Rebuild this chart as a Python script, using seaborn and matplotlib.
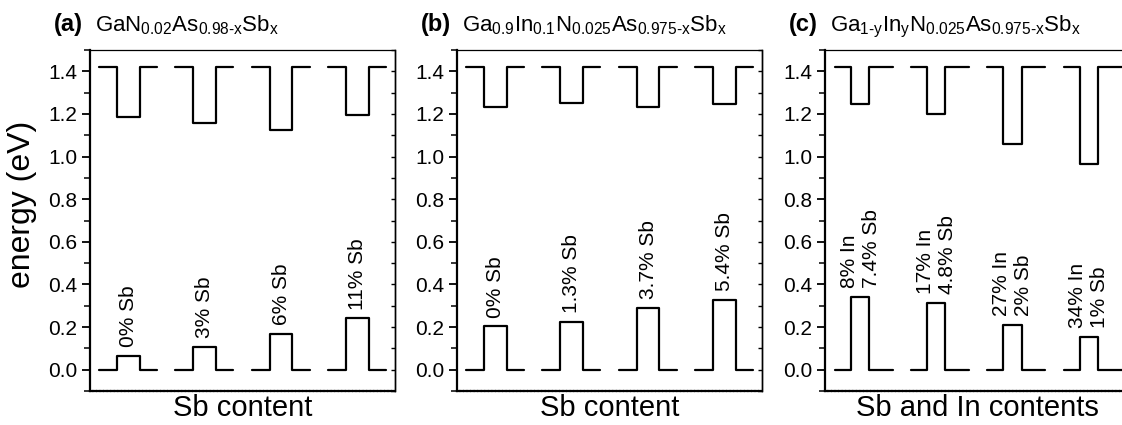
import numpy as np
import pandas as pd
import matplotlib
matplotlib.use("Agg")
import matplotlib.pyplot as plt
import seaborn as sns
from matplotlib.ticker import MultipleLocator

sns.set_theme(style="white")
plt.rcParams["font.family"] = ["Liberation Sans", "DejaVu Sans"]
plt.rcParams["mathtext.fontset"] = "custom"
plt.rcParams["mathtext.rm"] = "Liberation Sans"
plt.rcParams["mathtext.it"] = "Liberation Sans:italic"
plt.rcParams["mathtext.bf"] = "Liberation Sans:bold"

# ---------------- data ----------------
barrier_cb = 1.42   # GaAs conduction-band level (eV)
barrier_vb = 0.0    # GaAs valence-band level (eV)

panel_tags = ["(a)", "(b)", "(c)"]
panel_formulas = [
    r"$\mathregular{GaN_{0.02}As_{0.98\text{-}x}Sb_x}$",
    r"$\mathregular{Ga_{0.9}In_{0.1}N_{0.025}As_{0.975\text{-}x}Sb_x}$",
    r"$\mathregular{Ga_{1\text{-}y}In_yN_{0.025}As_{0.975\text{-}x}Sb_x}$",
]
x_labels = ["Sb content", "Sb content", "Sb and In contents"]

cb_a = [1.187, 1.159, 1.125, 1.193]
vb_a = [0.066, 0.108, 0.168, 0.241]
labels_a = ["0% Sb", "3% Sb", "6% Sb", "11% Sb"]

cb_b = [1.232, 1.253, 1.232, 1.245]
vb_b = [0.203, 0.224, 0.290, 0.327]
labels_b = ["0% Sb", "1.3% Sb", "3.7% Sb", "5.4% Sb"]

cb_c = [1.245, 1.200, 1.057, 0.963]
vb_c = [0.343, 0.313, 0.211, 0.154]
labels_c = ["8% In\n7.4% Sb", "17% In\n4.8% Sb", "27% In\n2% Sb", "34% In\n1% Sb"]

# ---------------- layout (geometry, not data) ----------------
W, H = 1122, 425
edges_ab = (0.12, 0.355, 0.655, 0.88)
edges_c = (0.13, 0.34, 0.58, 0.89)
panels = [
    dict(cb=cb_a, vb=vb_a, lab=labels_a, edges=edges_ab, left=90, right_spine=True),
    dict(cb=cb_b, vb=vb_b, lab=labels_b, edges=edges_ab, left=457, right_spine=True),
    dict(cb=cb_c, vb=vb_c, lab=labels_c, edges=edges_c, left=825, right_spine=False),
]
ax_w, ax_bottom, ax_top = 305, 391, 50

fig = plt.figure(figsize=(W / 100, H / 100), dpi=100)


def step_profile(i, level, barrier, edges):
    s, wl, wr, e = edges
    xs = [i + s, i + wl, i + wl, i + wr, i + wr, i + e]
    ys = [barrier, barrier, level, level, barrier, barrier]
    return xs, ys


for k, p in enumerate(panels):
    ax = fig.add_axes([p["left"] / W, (H - ax_bottom) / H, ax_w / W,
                       (ax_bottom - ax_top) / H])
    rows = []
    for i in range(4):
        for band, lvl, bar in (("cb", p["cb"][i], barrier_cb), ("vb", p["vb"][i], barrier_vb)):
            xs, ys = step_profile(i, lvl, bar, p["edges"])
            for j, (xx, yy) in enumerate(zip(xs, ys)):
                rows.append(dict(x=xx, y=yy, seg=f"{band}{i}", order=j))
    df = pd.DataFrame(rows)
    sns.lineplot(data=df, x="x", y="y", units="seg", estimator=None, sort=False,
                 color="black", linewidth=1.6, ax=ax)

    # rotated composition labels above the valence-band wells
    s, wl, wr, e = p["edges"]
    for i in range(4):
        ax.text(i + (wl + wr) / 2, p["vb"][i] + 0.04, p["lab"][i], rotation=90,
                rotation_mode="anchor", ha="left", va="center", fontsize=15,
                linespacing=1.2, color="black")

    ax.set_xlim(0, 4)
    ax.set_ylim(-0.1, 1.5)
    ax.set_xticks([])
    ax.yaxis.set_minor_locator(MultipleLocator(0.1))
    ax.set_yticks(np.arange(0, 1.41, 0.2))
    ax.set_yticklabels([f"{v:.1f}" for v in np.arange(0, 1.41, 0.2)])
    ax.tick_params(axis="y", which="major", direction="out", length=6, width=1.3,
                   labelsize=15, pad=3, left=True, colors="black")
    ax.tick_params(axis="y", which="minor", direction="out", length=4, width=1.3, left=True)
    ax.set_xlabel(x_labels[k], fontsize=21, labelpad=2, color="black")
    ax.set_ylabel("")

    for side in ax.spines.values():
        side.set_color("black")
    ax.spines["left"].set_linewidth(1.6)
    ax.spines["bottom"].set_linewidth(1.6)
    ax.spines["bottom"].set_linestyle((0, (1, 0.6)))
    ax.spines["top"].set_linewidth(0.9)
    ax.spines["top"].set_linestyle((0, (1, 1)))
    if p["right_spine"]:
        ax.spines["right"].set_linewidth(1.0)
        sec = ax.secondary_yaxis("right")
        sec.yaxis.set_major_locator(MultipleLocator(0.2))
        sec.yaxis.set_minor_locator(MultipleLocator(0.1))
        sec.tick_params(which="both", direction="in", length=3, width=1.0,
                        labelright=False, colors="black")
        sec.spines["right"].set_linewidth(1.0)
        sec.spines["right"].set_color("black")
    else:
        ax.spines["right"].set_visible(False)

    # panel title: bold tag + formula
    tx = (p["left"] - 36) / W
    fig.text(tx, (H - 31) / H, panel_tags[k], fontsize=17, fontweight="bold",
             va="baseline", ha="left", color="black")
    fig.text(tx + 41 / W, (H - 31) / H, panel_formulas[k], fontsize=16,
             va="baseline", ha="left", color="black")

fig.text(22 / W, (H - 204) / H, "energy (eV)", rotation=90, fontsize=23,
         ha="center", va="center", color="black")

fig.savefig("out.png", dpi=100)
